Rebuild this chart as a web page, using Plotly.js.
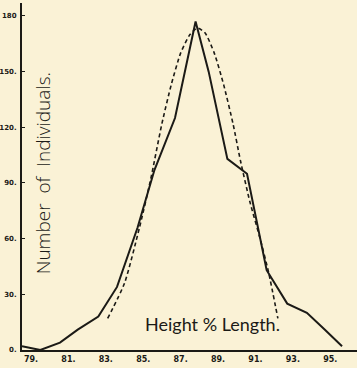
<!DOCTYPE html>
<html><head><meta charset="utf-8">
<script src="https://cdn.plot.ly/plotly-3.0.1.min.js"></script>
<style>html,body{margin:0;padding:0;background:#faf2d6;}#chart{width:357px;height:368px;}</style>
</head><body><div id="chart"></div>
<script>
// Observed frequency polygon
const obsX = [78.52, 79.5, 80.55, 81.5, 82.6, 83.6, 84.7, 85.6, 86.7, 87.8, 88.5, 89.5, 90.55, 91.6, 92.7, 93.75, 94.7, 95.63];
const obsY = [2, 0, 4, 11, 18, 34, 66, 97, 125, 177, 150, 103, 95, 43, 25, 20, 11, 2];
// Fitted (dashed) curve
const fitX = [83.1, 84.0, 84.8, 85.4, 86.0, 86.5, 87.0, 87.5, 87.9, 88.3, 88.8, 89.3, 89.8, 90.2, 90.7, 91.25, 91.7, 92.2];
const fitY = [17, 36, 66, 92, 122, 143, 160, 170, 173.5, 171, 160, 143, 122, 102, 80, 60, 42, 17];
// Tick labels
const xTickVals = [79, 81, 83, 85, 87, 89, 91, 93, 95];
const xTickText = ["79.", "81.", "83.", "85.", "87.", "89.", "91.", "93.", "95."];
const yTickVals = [0, 30, 60, 90, 120, 150, 180];
const yTickText = ["0.", "30.", "60.", "90.", "120.", "150.", "180"];

const ink = '#1b1a16';
const data = [
  {x: fitX, y: fitY, mode: 'lines', line: {color: ink, width: 1.6, dash: '4px,3px', shape: 'spline', smoothing: 0.6}, hoverinfo: 'skip'},
  {x: obsX, y: obsY, mode: 'lines', line: {color: ink, width: 2}, hoverinfo: 'skip'}
];
const layout = {
  width: 357, height: 368,
  margin: {l: 22, r: 0, t: 3, b: 18},
  paper_bgcolor: '#faf2d6', plot_bgcolor: '#faf2d6',
  showlegend: false,
  font: {family: 'Lato, sans-serif', color: ink},
  xaxis: {range: [78.52, 96.43], tickvals: xTickVals, ticktext: xTickText, showgrid: false, zeroline: false,
          showline: true, linecolor: ink, linewidth: 2, ticks: '', tickfont: {size: 8, family: 'DejaVu Sans', weight: 'bold', color: ink}, fixedrange: true},
  yaxis: {range: [0, 187], tickvals: yTickVals, ticktext: yTickText, showgrid: false, zeroline: false,
          showline: true, linecolor: ink, linewidth: 2, ticks: 'inside', ticklen: 3, tickcolor: ink,
          tickfont: {size: 7, family: 'DejaVu Sans', weight: 'bold', color: ink}, ticklabelstandoff: 2, fixedrange: true},
  annotations: [
    {x: 79.62, y: 95, xref: 'x', yref: 'y', text: 'Number  of  Individuals.', textangle: -90, showarrow: false,
     font: {size: 19, family: 'Open Sans', weight: 300, color: ink}},
    {x: 88.73, y: 14, xref: 'x', yref: 'y', text: 'Height % Length.', showarrow: false,
     font: {size: 18, family: 'Lato', color: ink}}
  ]
};
Plotly.newPlot('chart', data, layout, {staticPlot: true});
</script></body></html>
